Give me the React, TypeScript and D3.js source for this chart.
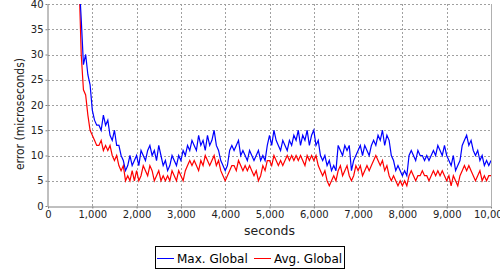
import React, { useEffect, useRef } from 'react';
import * as d3 from 'd3';

// Sample times (seconds), one every 50 s from 700 to 10,000
const startTime = 700;
const step = 50;

// Max. Global error (microseconds)
const maxGlobal = [
  45, 37, 28, 30, 26, 24,
  19, 17, 16, 16, 15, 18, 16, 17, 14, 13, 15, 12, 12, 10, 9, 7, 8, 10, 8, 9,
  10, 8, 11, 10, 9, 11, 12, 10, 11, 9, 12, 10, 8, 9, 7, 8, 10, 9, 8, 10,
  9, 11, 10, 12, 11, 13, 12, 11, 14, 12, 13, 11, 14, 12, 13, 15, 12, 11, 9, 8,
  7, 8, 11, 12, 11, 12, 13, 10, 11, 10, 9, 11, 10, 9, 10, 11, 9, 10, 9, 12,
  14, 12, 15, 13, 12, 11, 13, 12, 11, 13, 12, 14, 13, 15, 12, 14, 13, 15, 12, 14,
  15, 12, 13, 10, 9, 10, 8, 9, 7, 8, 7, 12, 11, 10, 12, 11, 12, 7, 9, 10,
  11, 12, 10, 12, 11, 10, 12, 13, 12, 14, 13, 15, 12, 14, 13, 10, 9, 7, 8, 7,
  6, 7, 6, 10, 11, 10, 9, 11, 10, 10, 9, 10, 9, 10, 11, 10, 12, 11, 10, 12,
  10, 9, 8, 10, 7, 8, 9, 12, 13, 14, 12, 13, 11, 10, 11, 9, 10, 8, 9, 8,
  9,
];

// Avg. Global error (microseconds)
const avgGlobal = [
  45, 30, 23, 22, 18, 15,
  14, 13, 12, 12, 13, 11, 12, 11, 12, 10, 9, 10, 8, 7, 8, 5, 6, 5, 7, 5,
  7, 5, 6, 8, 7, 6, 8, 7, 5, 6, 7, 5, 6, 5, 6, 5, 7, 6, 5, 7,
  6, 5, 7, 8, 9, 8, 9, 8, 7, 9, 8, 10, 9, 8, 9, 10, 8, 9, 7, 6,
  5, 6, 7, 8, 8, 7, 9, 8, 7, 8, 7, 8, 7, 6, 7, 5, 6, 8, 7, 9,
  9, 8, 10, 9, 8, 9, 8, 9, 10, 9, 10, 9, 10, 9, 10, 9, 8, 10, 9, 10,
  9, 10, 8, 7, 6, 7, 5, 4, 5, 6, 5, 7, 8, 6, 7, 8, 6, 5, 6, 8,
  7, 8, 6, 7, 8, 7, 8, 9, 10, 9, 8, 9, 7, 8, 6, 5, 6, 5, 4, 5,
  4, 5, 4, 6, 7, 6, 5, 6, 6, 7, 6, 6, 5, 6, 7, 6, 7, 6, 7, 6,
  5, 6, 4, 6, 5, 4, 6, 7, 8, 7, 8, 7, 6, 5, 6, 7, 5, 6, 5, 6,
  6,
];

const xTicks = [0, 1000, 2000, 3000, 4000, 5000, 6000, 7000, 8000, 9000, 10000];
const yTicks = [0, 5, 10, 15, 20, 25, 30, 35, 40];

const legendItems = [
  { label: 'Max. Global', color: '#0000ff' },
  { label: 'Avg. Global', color: '#ff0000' },
];

const FONT = '"DejaVu Sans", sans-serif';

const App = () => {
  const chartRef = useRef<SVGSVGElement>(null);

  useEffect(() => {
    const svg = d3.select(chartRef.current);
    svg.selectAll('*').remove();

    const left = 48, right = 491, top = 4, bottom = 206;

    const x = d3.scaleLinear().domain([0, 10000]).range([left, right]);
    const y = d3.scaleLinear().domain([0, 40]).range([bottom, top]);

    svg.append('rect').attr('width', 500).attr('height', 270).attr('fill', '#fff');

    // clip for the data lines
    svg.append('clipPath').attr('id', 'plot-clip')
      .append('rect')
      .attr('x', left).attr('y', top)
      .attr('width', right - left).attr('height', bottom - top);

    // grid
    const grid = svg.append('g')
      .attr('stroke', '#a0a0a0')
      .attr('stroke-width', 1)
      .attr('stroke-dasharray', '2,2')
      .attr('shape-rendering', 'crispEdges');
    grid.selectAll('line.v')
      .data(xTicks.slice(1, -1))
      .enter().append('line')
      .attr('x1', d => Math.round(x(d)) + 0.5).attr('x2', d => Math.round(x(d)) + 0.5)
      .attr('y1', top).attr('y2', bottom);
    grid.selectAll('line.h')
      .data(yTicks.slice(1))
      .enter().append('line')
      .attr('x1', left).attr('x2', right)
      .attr('y1', d => Math.round(y(d)) + 0.5).attr('y2', d => Math.round(y(d)) + 0.5);

    // right border
    svg.append('line')
      .attr('x1', right + 0.5).attr('x2', right + 0.5)
      .attr('y1', top).attr('y2', bottom)
      .attr('stroke', '#b0b0b0');

    // series
    const line = d3.line<number>()
      .x((_, i) => x(startTime + i * step))
      .y(d => y(d));

    const lines = svg.append('g').attr('clip-path', 'url(#plot-clip)');
    lines.append('path')
      .datum(avgGlobal)
      .attr('fill', 'none')
      .attr('stroke', '#ff0000')
      .attr('stroke-width', 1.2)
      .attr('d', line);
    lines.append('path')
      .datum(maxGlobal)
      .attr('fill', 'none')
      .attr('stroke', '#0000ff')
      .attr('stroke-width', 1.2)
      .attr('d', line);

    // axes
    const xAxis = svg.append('g')
      .attr('transform', `translate(0,${bottom + 0.5})`)
      .call(d3.axisBottom(x).tickValues(xTicks).tickFormat(d3.format(',')).tickSizeInner(2).tickSizeOuter(0).tickPadding(2));
    const yAxis = svg.append('g')
      .attr('transform', `translate(${left - 0.5},0)`)
      .call(d3.axisLeft(y).tickValues(yTicks).tickSizeInner(2).tickSizeOuter(0).tickPadding(2));

    [xAxis, yAxis].forEach(a => {
      a.select('.domain').attr('stroke', '#808080');
      a.selectAll('.tick line').attr('stroke', '#808080');
      a.selectAll('.tick text')
        .attr('fill', '#222')
        .style('font-family', FONT)
        .style('font-size', '10px');
    });

    // axis titles
    svg.append('text')
      .attr('x', (left + right) / 2).attr('y', 235)
      .attr('text-anchor', 'middle')
      .style('font-family', FONT).style('font-size', '12.5px')
      .attr('fill', '#222')
      .text('seconds');
    svg.append('text')
      .attr('transform', `translate(23.5,114) rotate(-90)`)
      .attr('text-anchor', 'middle')
      .attr('textLength', 112)
      .attr('lengthAdjust', 'spacingAndGlyphs')
      .style('font-family', FONT).style('font-size', '12px')
      .attr('fill', '#222')
      .text('error (microseconds)');

    // legend
    const legend = svg.append('g');
    legend.append('rect')
      .attr('x', 155.5).attr('y', 246.5)
      .attr('width', 189).attr('height', 22)
      .attr('fill', '#fff').attr('stroke', '#000');
    const itemX = [157, 254];
    legendItems.forEach((item, i) => {
      legend.append('line')
        .attr('x1', itemX[i]).attr('x2', itemX[i] + 17)
        .attr('y1', 258.5).attr('y2', 258.5)
        .attr('stroke', item.color);
      legend.append('text')
        .attr('x', itemX[i] + 20).attr('y', 262.5)
        .style('font-family', FONT).style('font-size', '12px')
        .attr('fill', '#000')
        .text(item.label);
    });

    return () => {
      svg.selectAll('*').remove();
    };
  }, []);

  return (
    <svg
      ref={chartRef}
      width={500}
      height={270}
      style={{ position: 'absolute', left: 0, top: 0 }}
    />
  );
};

export default App;
